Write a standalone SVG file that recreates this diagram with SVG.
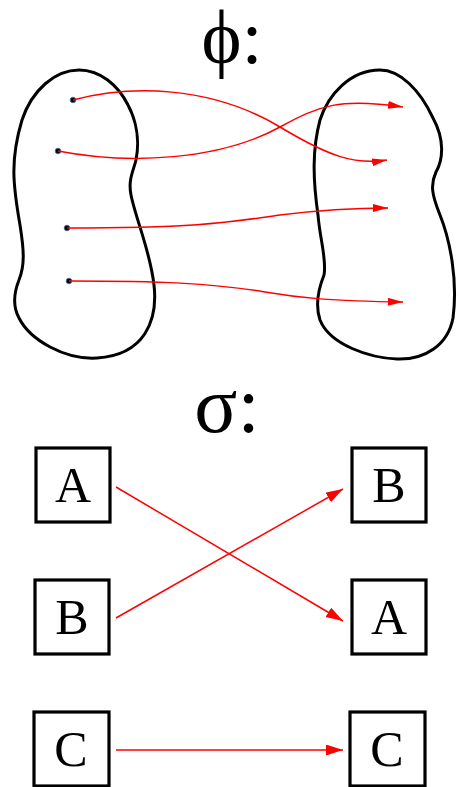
<svg xmlns="http://www.w3.org/2000/svg" width="459" height="787" viewBox="0 0 459 787">
<style>
.blob{fill:none;stroke:#000;stroke-width:3}
.box{fill:#fff;stroke:#000;stroke-width:3.2}
.lbl{font-family:"Liberation Serif",serif;font-size:50px;text-anchor:middle;fill:#000}
.title{font-family:"Liberation Serif",serif;font-size:80px;text-anchor:middle;fill:#000}
.arr{fill:none;stroke:#f00;stroke-width:1.5}
.dot{fill:#000;stroke:#4a6fa5;stroke-width:0.9}
</style>
<defs>
<marker id="ah" markerUnits="userSpaceOnUse" markerWidth="16" markerHeight="10" refX="15" refY="4" orient="auto">
<path d="M0,0 L15,4 L0,8 z" fill="#f00"/>
</marker>
<marker id="ah2" markerUnits="userSpaceOnUse" markerWidth="18" markerHeight="12" refX="17" refY="5.5" orient="auto">
<path d="M0,0 L17,5.5 L0,11 z" fill="#f00"/>
</marker>
</defs>
<g id="phi-title"><text class="title" x="232" y="63" style="font-size:76px">ϕ:</text></g>
<g id="domain">
<path class="blob" d="M79,70 C100,70 118,85 128,105 C136,120 140,140 136,160 C133,172 128,180 131,195 C136,220 150,250 154,285 C158,320 145,355 97,358 C65,360 30,340 19,318 C12,305 15,290 19,280 C25,265 24,250 20,225 C13,185 10,160 22,120 C32,90 55,70 79,70 Z"/>
<circle class="dot" cx="73" cy="100" r="2.8"/>
<circle class="dot" cx="58" cy="151" r="2.8"/>
<circle class="dot" cx="67" cy="228" r="2.8"/>
<circle class="dot" cx="69" cy="281" r="2.8"/>
</g>
<g id="codomain">
<path class="blob" d="M380,70 C400,70 420,90 433,118 C445,140 443,160 436,172 C430,185 432,195 440,215 C450,240 458,280 453,318 C448,345 425,360 397,359 C370,358 330,345 320,320 C315,305 318,290 324,275 C327,260 320,240 318,215 C313,180 312,150 320,120 C328,95 350,70 380,70 Z"/>
</g>
<g id="sigma-title"><text class="title" x="227" y="432">σ:</text></g>
<g id="left-A"><rect class="box" x="36" y="448" width="74" height="74"/><text class="lbl" x="73" y="502">A</text></g>
<g id="left-B"><rect class="box" x="35" y="580" width="74" height="74"/><text class="lbl" x="72" y="634">B</text></g>
<g id="left-C"><rect class="box" x="34" y="712" width="75" height="74"/><text class="lbl" x="71" y="766">C</text></g>
<g id="right-B"><rect class="box" x="352" y="448" width="74" height="74"/><text class="lbl" x="389" y="502">B</text></g>
<g id="right-A"><rect class="box" x="352" y="580" width="74" height="74"/><text class="lbl" x="389" y="634">A</text></g>
<g id="right-C"><rect class="box" x="350" y="712" width="75" height="74"/><text class="lbl" x="387" y="766">C</text></g>
<g id="connectors">
<path class="arr" marker-end="url(#ah)" d="M73,100 C130,85 210,85 280,127 C330,157 355,165 387,160"/>
<path class="arr" marker-end="url(#ah)" d="M58,151 C130,165 220,160 280,127 C320,105 340,98 403,107"/>
<path class="arr" marker-end="url(#ah)" d="M67,228 C200,228 230,222 280,215 C320,210 350,208 388,208"/>
<path class="arr" marker-end="url(#ah)" d="M69,281 C160,281 210,283 265,292 C300,298 330,301 403,302"/>
<path class="arr" marker-end="url(#ah2)" d="M116,487 L343,621"/>
<path class="arr" marker-end="url(#ah2)" d="M116,618 L343,489"/>
<path class="arr" marker-end="url(#ah2)" d="M116,750 L343,750"/>
</g>
</svg>
